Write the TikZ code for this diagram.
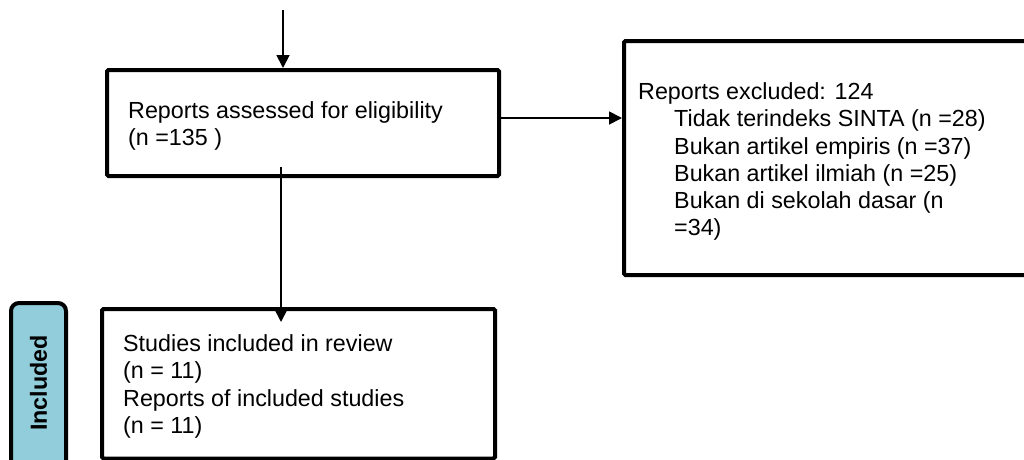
\documentclass[tikz,border=0pt]{standalone}
\usepackage{fontspec}
\setmainfont{Liberation Sans}
\usetikzlibrary{arrows.meta,calc}
\definecolor{phaseblue}{RGB}{146,205,220}
\begin{document}
\begin{tikzpicture}[x=1pt,y=-1pt,
  box/.style={draw, line width=4pt, rectangle, rounded corners=1.5pt, inner sep=0pt},
  txt/.style={anchor=north west, align=left, inner sep=0pt, font=\fontsize{23.3}{27.2}\selectfont},
  arr/.style={line width=1.8pt, -{Triangle[length=13pt,width=13pt]}}]
\useasboundingbox (0,0) rectangle (1024,459);
% boxes
\node[box, minimum width=392pt, minimum height=106pt] (b1) at (303,123) {};
\node[box, minimum width=406pt, minimum height=234pt] (b3) at (827,158) {};
\node[box, minimum width=393pt, minimum height=149.5pt] (b2) at (298.5,383.75) {};
\node[box, fill=phaseblue, rounded corners=8pt, minimum width=55pt, minimum height=217pt] (inc) at (38.5,411.5) {};
\node[font=\fontsize{23.3}{27.2}\selectfont\bfseries, rotate=90, inner sep=0pt] (inclbl) at (38.5,383) {Included};
% texts
\node[txt] (t1) at (128,101.6) {Reports assessed for eligibility\\(n =135 )};
\node[txt] (t3) at (638,82.6) {Reports excluded: 124\\
\hspace*{36pt}Tidak terindeks SINTA (n =28)\\
\hspace*{36pt}Bukan artikel empiris (n =37)\\
\hspace*{36pt}Bukan artikel ilmiah (n =25)\\
\hspace*{36pt}Bukan di sekolah dasar (n\\
\hspace*{36pt}=34)};
\node[txt] (t2) at (123,334.6) {Studies included in review\\(n = 11)\\Reports of included studies\\(n = 11)};
% connectors
\coordinate (src) at (283,10);
\draw[arr] (src) -- (src |- b1.north);
\draw[arr] ([yshift=5pt]b1.east) coordinate (ra) -- (ra -| b3.west);
\draw[arr] ([xshift=-22pt,yshift=11pt]b1.south) -- ([xshift=-17.5pt,yshift=-15pt]b2.north);
\end{tikzpicture}
\end{document}
